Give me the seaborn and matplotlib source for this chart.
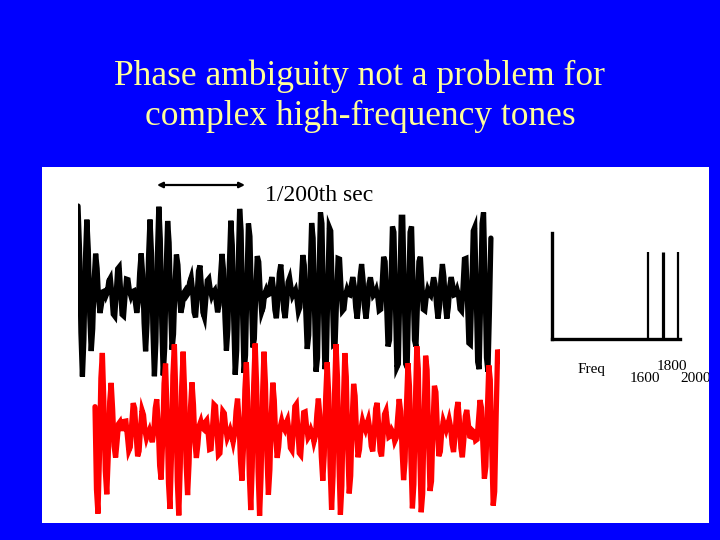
import numpy as np
import pandas as pd
import seaborn as sns
import matplotlib
matplotlib.use("Agg")
import matplotlib.pyplot as plt

# ---------------- data ----------------
title_lines = ["Phase ambiguity not a problem for", "complex high-frequency tones"]
period_label = "1/200th sec"
freq_label = "Freq"
freqs_hz = [1600, 1800, 2000]          # components of the complex tone
amps = [1.0, 1.0, 1.0]                 # equal spectral line heights
tick_labels = ["1600", "1800", "2000"]
phase_black = [0.0, 0.0, 0.0]          # carrier phase of each component (rad)
phase_red = [1.3, 1.3, 1.3]
sample_rate_hz = 11025
black_start_s, black_dur_s = 0.0, 0.02555
red_start_s, red_dur_s = 0.00105, 0.0250

# ---------------- style ----------------
sns.set_theme(style="white")
plt.rcParams["font.family"] = ["Liberation Serif", "DejaVu Serif"]

W, H = 720, 540
fig = plt.figure(figsize=(W / 100, H / 100), dpi=100)
fig.patch.set_facecolor("#0000FF")


def fx(px):
    return px / W


def fy(py):
    return 1 - py / H


# white panel
ax_panel = fig.add_axes([fx(42), fy(523), (709 - 42) / W, (523 - 167) / H])
ax_panel.set_facecolor("white")
ax_panel.set_xticks([]); ax_panel.set_yticks([])
for s in ax_panel.spines.values():
    s.set_visible(False)

# title
for line, base in zip(title_lines, [85, 125]):
    fig.text(fx(360), fy(base), line, ha="center", va="baseline",
             color="#FFFF99", fontsize=25.5)


def tone(freqs, amplitudes, phases, dur):
    t = np.arange(0, dur, 1 / sample_rate_hz)
    y = np.zeros_like(t)
    for f, a, p in zip(freqs, amplitudes, phases):
        y += a * np.cos(2 * np.pi * f * t + p)
    return t, y


tb, yb = tone(freqs_hz, amps, phase_black, black_dur_s)
tr, yr = tone(freqs_hz, amps, phase_red, red_dur_s)
black_df = pd.DataFrame({"t": tb + black_start_s, "amp": yb + 2.36})
red_df = pd.DataFrame({"t": tr + red_start_s, "amp": yr - 2.36})

# waveform axes (16200 px per second, 29 px per amplitude unit)
ax_w = fig.add_axes([fx(78), fy(531.5), 422 / W, 340 / H])
ax_w.patch.set_alpha(0)
sns.lineplot(data=black_df, x="t", y="amp", ax=ax_w, color="black",
             linewidth=3.8, sort=False, estimator=None, solid_joinstyle="miter")
sns.lineplot(data=red_df, x="t", y="amp", ax=ax_w, color="#FF0000",
             linewidth=3.8, sort=False, estimator=None, solid_joinstyle="miter")
ax_w.set_xlim(0, 422 / 16200)
ax_w.set_ylim(-5.86, 5.86)
ax_w.axis("off")

# period arrow and label
ax_w.annotate("", xy=(fx(157), fy(185)), xytext=(fx(245), fy(185)),
              xycoords="figure fraction", textcoords="figure fraction",
              arrowprops=dict(arrowstyle="<|-|>", color="black", lw=1.6,
                              mutation_scale=8, shrinkA=0, shrinkB=0))
fig.text(fx(265), fy(201), period_label, ha="left", va="baseline",
         color="black", fontsize=17)

# spectrum inset
ax_s = fig.add_axes([fx(552), fy(339), 128 / W, 106 / H])
ax_s.patch.set_alpha(0)
ax_s.vlines(freqs_hz, 0, amps, colors="black", linewidths=[1.6, 2.3, 1.6])
ax_s.set_xlim(320, 2030)
ax_s.set_ylim(0, 1.22)
ax_s.set_xticks([]); ax_s.set_yticks([])
sns.despine(ax=ax_s)
for side in ["left", "bottom"]:
    ax_s.spines[side].set_color("black")
    ax_s.spines[side].set_linewidth(2.4)
ax_s.spines["left"].set_capstyle("projecting")

labels = [(freq_label, 591, 369), (tick_labels[0], 645, 378),
          (tick_labels[1], 672, 367), (tick_labels[2], 696, 378)]
for txt, x, y in labels:
    t = fig.text(fx(x), fy(y), txt, ha="center", va="center",
                 color="black", fontsize=11)
    t.set_clip_path(ax_panel.patch)
    t.set_clip_on(True)

fig.savefig("out.png", dpi=100, facecolor=fig.get_facecolor())
